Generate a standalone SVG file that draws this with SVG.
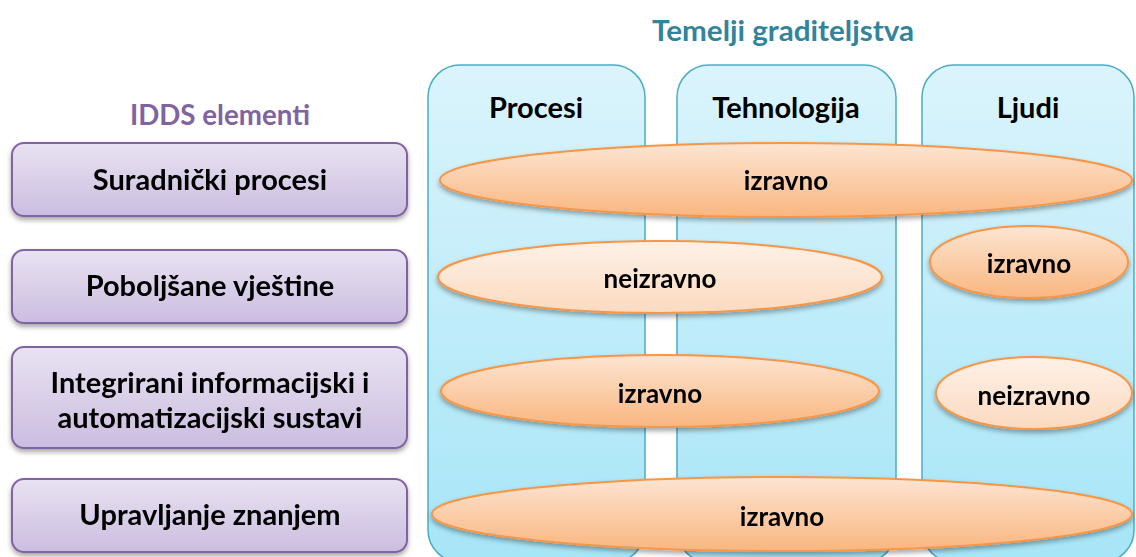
<svg xmlns="http://www.w3.org/2000/svg" width="1136" height="557" viewBox="0 0 1136 557">
<defs>
<linearGradient id="gCol" x1="0" y1="0" x2="0" y2="1">
<stop offset="0" stop-color="#DBF4FC"/>
<stop offset="1" stop-color="#A6E5F7"/>
</linearGradient>
<linearGradient id="gPur" x1="0" y1="0" x2="0" y2="1">
<stop offset="0" stop-color="#E9E2F2"/>
<stop offset="1" stop-color="#CBBDE0"/>
</linearGradient>
<linearGradient id="gDir" x1="0" y1="0" x2="0" y2="1">
<stop offset="0" stop-color="#FDE5D2"/>
<stop offset="1" stop-color="#F9B680"/>
</linearGradient>
<linearGradient id="gInd" x1="0" y1="0" x2="0" y2="1">
<stop offset="0" stop-color="#FEF1E7"/>
<stop offset="1" stop-color="#FBDAC0"/>
</linearGradient>
<filter id="sh" x="-10%" y="-20%" width="120%" height="150%">
<feDropShadow dx="0" dy="3" stdDeviation="2.5" flood-color="#000" flood-opacity="0.35"/>
</filter>
</defs>
<style>
.t{font-family:Lato,"Open Sans","Liberation Sans",sans-serif;font-weight:bold;text-anchor:middle;dominant-baseline:central}
.box{fill:url(#gPur);stroke:#8064A2;stroke-width:2}
.col{fill:url(#gCol);stroke:#4BACC6;stroke-width:1.5}
.dir{fill:url(#gDir);stroke:#F79646;stroke-width:2}
.ind{fill:url(#gInd);stroke:#F79646;stroke-width:2}
.lbl{font-size:29px;fill:#000}
.el{font-size:26px;fill:#000}
</style>
<rect width="1136" height="557" fill="#fff"/>

<text class="t" x="783" y="30" font-size="28" fill="#31849B" textLength="262" lengthAdjust="spacingAndGlyphs">Temelji graditeljstva</text>
<text class="t" x="220" y="114" font-size="28" fill="#8064A2" textLength="180" lengthAdjust="spacingAndGlyphs">IDDS elementi</text>

<g id="col-procesi">
<rect class="col" x="428" y="65" width="217" height="497" rx="32"/>
<text class="t lbl" x="536" y="106">Procesi</text>
</g>
<g id="col-tehnologija">
<rect class="col" x="677" y="65" width="219" height="497" rx="32"/>
<text class="t lbl" x="786" y="106">Tehnologija</text>
</g>
<g id="col-ljudi">
<rect class="col" x="922" y="65" width="212" height="497" rx="32"/>
<text class="t lbl" x="1028" y="106">Ljudi</text>
</g>

<g id="idds-1" filter="url(#sh)">
<rect class="box" x="12" y="143" width="395" height="73" rx="12"/>
<text class="t lbl" x="210" y="178">Suradnički procesi</text>
</g>
<g id="idds-2" filter="url(#sh)">
<rect class="box" x="12" y="250" width="395" height="73" rx="12"/>
<text class="t lbl" x="210" y="284">Poboljšane vještine</text>
</g>
<g id="idds-3" filter="url(#sh)">
<rect class="box" x="12" y="347" width="395" height="101" rx="12"/>
<text class="t lbl" x="210" y="381">Integrirani informacijski i</text>
<text class="t lbl" x="210" y="416">automatizacijski sustavi</text>
</g>
<g id="idds-4" filter="url(#sh)">
<rect class="box" x="12" y="479" width="395" height="73" rx="12"/>
<text class="t lbl" x="210" y="513">Upravljanje znanjem</text>
</g>

<g id="e1" filter="url(#sh)">
<ellipse class="dir" cx="786" cy="180" rx="346" ry="37"/>
<text class="t el" x="786" y="180">izravno</text>
</g>
<g id="e2" filter="url(#sh)">
<ellipse class="ind" cx="660" cy="277" rx="222" ry="36"/>
<text class="t el" x="660" y="278">neizravno</text>
</g>
<g id="e3" filter="url(#sh)">
<ellipse class="dir" cx="1029" cy="262" rx="99" ry="36"/>
<text class="t el" x="1029" y="263">izravno</text>
</g>
<g id="e4" filter="url(#sh)">
<ellipse class="dir" cx="660" cy="391" rx="219" ry="36"/>
<text class="t el" x="660" y="393">izravno</text>
</g>
<g id="e5" filter="url(#sh)">
<ellipse class="ind" cx="1034" cy="393" rx="98" ry="36"/>
<text class="t el" x="1034" y="395">neizravno</text>
</g>
<g id="e6" filter="url(#sh)">
<ellipse class="dir" cx="782" cy="514" rx="350" ry="37"/>
<text class="t el" x="782" y="516">izravno</text>
</g>
<g id="connectors"></g>
</svg>
